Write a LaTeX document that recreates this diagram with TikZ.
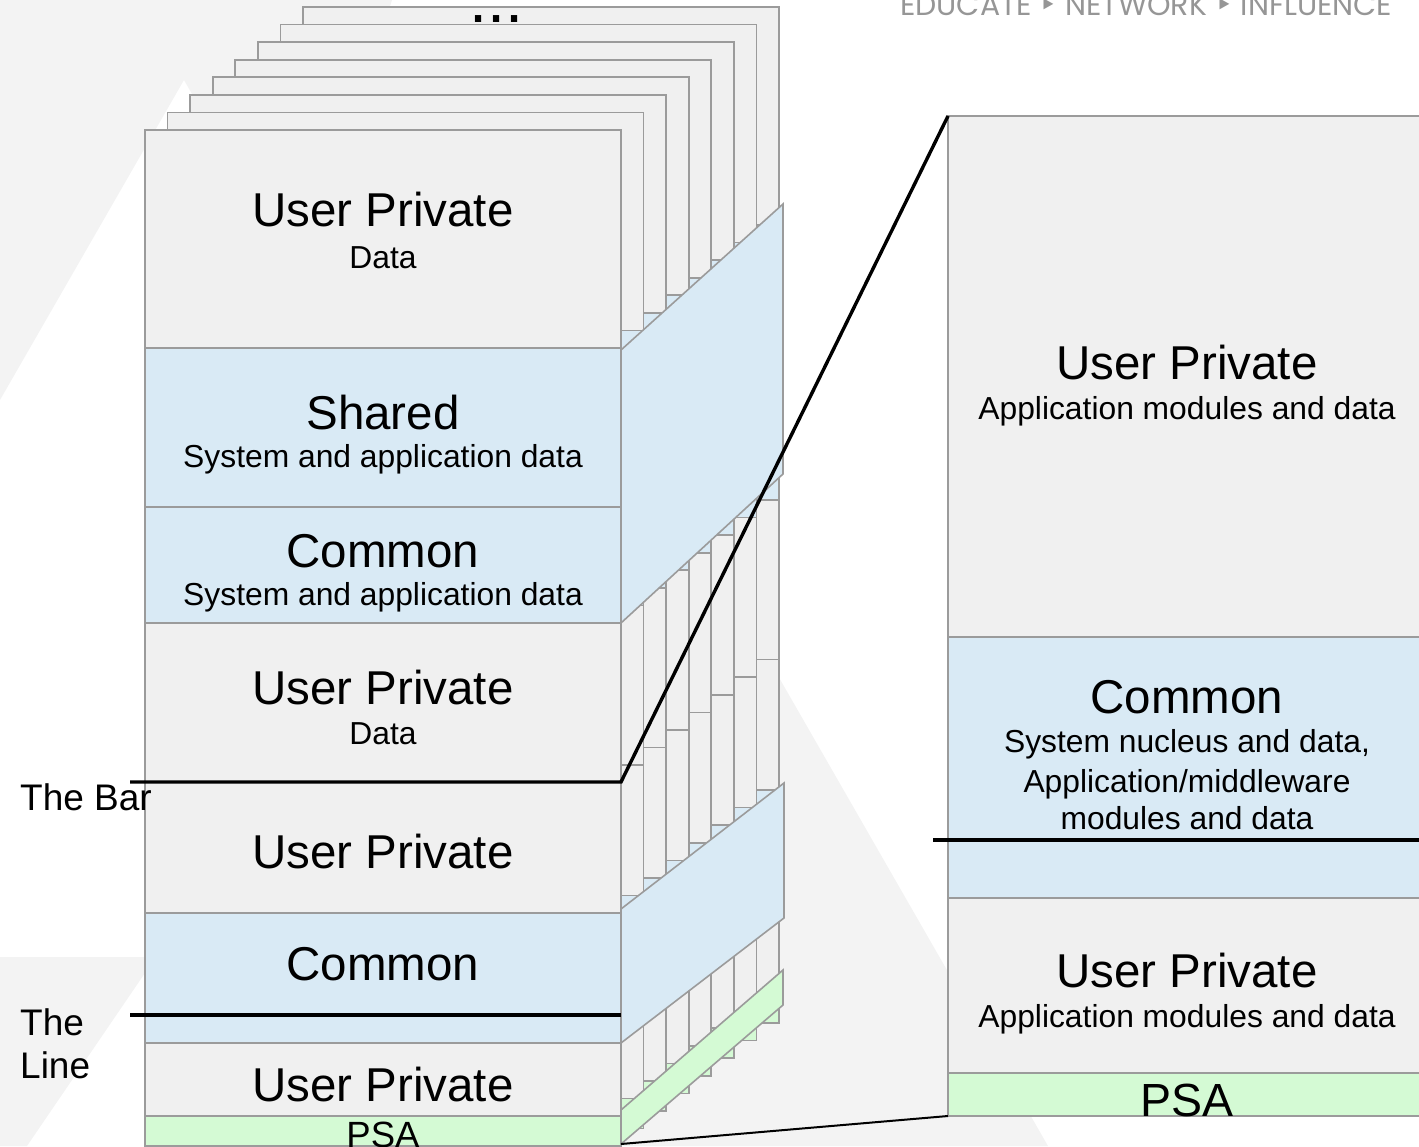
\documentclass[tikz,border=0pt]{standalone}
\usepackage{fontspec}
\usepackage{graphicx}
\setmainfont{Liberation Sans}
\newfontfamily\tagfont{Poppins}
\newfontfamily\symfont{DejaVu Sans}

\definecolor{cardgray}{RGB}{240,240,240}
\definecolor{slabblue}{RGB}{217,234,245}
\definecolor{psagreen}{RGB}{212,250,212}
\definecolor{edgegray}{RGB}{155,155,155}
\definecolor{bggray}{RGB}{243,243,243}
\definecolor{taggray}{RGB}{150,150,150}

% one memory card: all its layers, front position
\newcommand{\drawcard}{%
  \path[upfill]    (145,130)   rectangle (621,348);
  \path[bluefill]  (145,348)   rectangle (621,507);
  \path[bluefill]  (145,507)   rectangle (621,623);
  \path[upfill]    (145,623)   rectangle (621,782.6);
  \path[upfill]    (145,782.6) rectangle (621,913);
  \path[bluefill]  (145,913)   rectangle (621,1043);
  \path[upfill]    (145,1043)  rectangle (621,1116);
  \path[greenfill] (145,1116)  rectangle (621,1146);
}

\begin{document}
\begin{tikzpicture}[x=1pt,y=-1pt,
  edge/.style={draw=edgegray, line width=1.6pt},
  upfill/.style={edge, fill=cardgray},
  bluefill/.style={edge, fill=slabblue},
  greenfill/.style={edge, fill=psagreen},
  bgshape/.style={fill=bggray, draw=none},
  bigtxt/.style={font=\fontsize{47.5}{50}\selectfont, inner sep=0pt, anchor=base},
  smalltxt/.style={font=\fontsize{31.8}{36}\selectfont, inner sep=0pt, anchor=base},
  lbl/.style={font=\fontsize{37}{42}\selectfont, inner sep=0pt, anchor=base west},
  cutline/.style={draw=black, line width=3.4pt, line join=miter},
  thinline/.style={draw=black, line width=2pt}
]
\useasboundingbox (0,0) rectangle (1419,1146);
\clip (0,0) rectangle (1419,1146);

% background triangles
\path[bgshape] (0,0) -- (392,0) -- (330,200) -- (261,215) -- (184,80) -- (0,400) -- cycle;
\path[bgshape] (700,540) -- (1048,1146) -- (600,1146) -- (600,540) -- cycle;
\path[bgshape] (0,957) -- (145,957) -- (145,973) -- (27,1146) -- (0,1146) -- cycle;

% tag line
\node[anchor=base west, inner sep=0pt, text=taggray] (tagline) at (900,15)
  {\resizebox{492pt}{!}{\tagfont EDUCATE {\symfont ‣} NETWORK {\symfont ‣} INFLUENCE}};

% cards stacked behind the front one
\foreach \k in {7,6,5,4,3,2,1}{
  \begin{scope}[shift={(22.57*\k,-17.57*\k)}]
    \drawcard
  \end{scope}
}
\node[font=\fontsize{65}{70}\selectfont, inner sep=0pt, anchor=base] (more) at (496.5,22) {...};

% layers seen across the whole stack
\path[bluefill]  (621,350)  -- (783,204) -- (783,474)  -- (621,623)  -- cycle;
\path[bluefill]  (621,909)  -- (784,783) -- (784,918)  -- (621,1043) -- cycle;
\path[greenfill] (621,1110) -- (783,970) -- (783,1005) -- (621,1144) -- cycle;

% front card
\drawcard
\node[bigtxt]   (upA)    at (383,226) {User Private};
\node[smalltxt] (upAsub) at (383,268) {Data};
\node[bigtxt]   (sh)     at (383,429) {Shared};
\node[smalltxt] (shsub)  at (383,467) {System and application data};
\node[bigtxt]   (cmA)    at (383,567) {Common};
\node[smalltxt] (cmAsub) at (383,605) {System and application data};
\node[bigtxt]   (upB)    at (383,704) {User Private};
\node[smalltxt] (upBsub) at (383,744) {Data};
\node[bigtxt]   (upC)    at (383,868) {User Private};
\node[bigtxt]   (cmB)    at (383,980) {Common};
\node[bigtxt]   (upD)    at (383,1101) {User Private};
\node[font=\fontsize{36.5}{40}\selectfont, inner sep=0pt, anchor=base] (psaL) at (383,1147) {PSA};

% enlarged single card
\path[upfill]    (948,116)  rectangle (1440,637);
\path[bluefill]  (948,637)  rectangle (1440,898);
\path[upfill]    (948,898)  rectangle (1440,1073);
\path[greenfill] (948,1073) rectangle (1440,1116);
\node[bigtxt]   (rUp)     at (1187,379) {User Private};
\node[smalltxt] (rUpsub)  at (1187,419) {Application modules and data};
\node[bigtxt]   (rCm)     at (1187,713) {Common};
\node[smalltxt] (rCmA)    at (1187,752) {System nucleus and data,};
\node[smalltxt] (rCmB)    at (1187,792) {Application/middleware};
\node[smalltxt] (rCmC)    at (1187,829) {modules and data};
\node[bigtxt]   (rUp2)    at (1187,987) {User Private};
\node[smalltxt] (rUp2sub) at (1187,1027) {Application modules and data};
\node[font=\fontsize{46.5}{50}\selectfont, inner sep=0pt, anchor=base] (psaR) at (1187,1116) {PSA};

% bar, line and zoom guides
\coordinate (barL) at (130,782);
\coordinate (barR) at (621,782);
\coordinate (panelTL) at (948,116);
\coordinate (stackBR) at (621,1144);
\coordinate (panelBL) at (948,1116);
\coordinate (lineL) at (130,1015);
\coordinate (lineR) at (621,1015);
\coordinate (rLineL) at (933,840);
\coordinate (rLineR) at (1419,840);
\draw[cutline] (barL) -- (barR) -- (panelTL);
\draw[cutline] (lineL) -- (lineR);
\draw[cutline] (rLineL) -- (rLineR);
\draw[thinline] (stackBR) -- (panelBL);

\node[lbl] (barlbl)  at (20,810)  {The Bar};
\node[lbl] (linelbl) at (20,1035) {The};
\node[lbl] (linelb2) at (20,1078) {Line};
\end{tikzpicture}
\end{document}
